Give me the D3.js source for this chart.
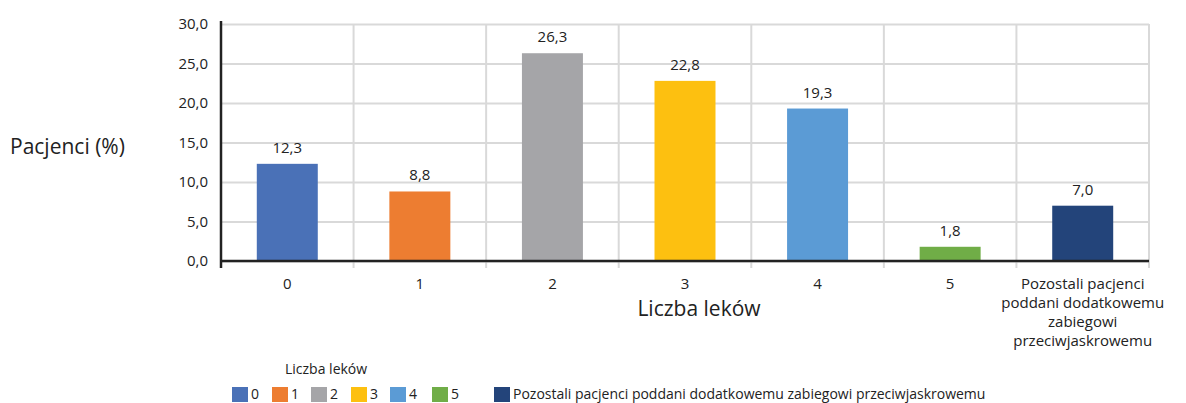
<!DOCTYPE html>
<html>
<head>
<meta charset="utf-8">
<script src="https://cdn.jsdelivr.net/npm/d3@7"></script>
<style>
  html, body { margin: 0; padding: 0; background: #fff; overflow: hidden; }
  svg { display: block; font-family: "Open Sans", "Noto Sans", sans-serif; }
</style>
</head>
<body>
<svg id="chart"></svg>
<script>
// Data
const categories = ["0", "1", "2", "3", "4", "5", "Pozostali pacjenci poddani dodatkowemu zabiegowi przeciwjaskrowemu"];
const tickLabels = [["0"], ["1"], ["2"], ["3"], ["4"], ["5"],
  ["Pozostali pacjenci", "poddani dodatkowemu", "zabiegowi", "przeciwjaskrowemu"]];
const values = [12.3, 8.8, 26.3, 22.8, 19.3, 1.8, 7.0];
const colours = ["#4a71b7", "#ed7d31", "#a5a5a8", "#fdc010", "#5b9bd5", "#70ad47", "#23447a"];
const legendLabels = ["0", "1", "2", "3", "4", "5", "Pozostali pacjenci poddani dodatkowemu zabiegowi przeciwjaskrowemu"];
const yTicks = [0, 5, 10, 15, 20, 25, 30];

const width = 1186, height = 403;
const margin = { top: 24, right: 37, bottom: 142, left: 221 };
const innerWidth = width - margin.left - margin.right;
const innerHeight = height - margin.top - margin.bottom;

const fmt = v => d3.format(".1f")(v).replace(".", ",");

const svg = d3.select("#chart").attr("width", width).attr("height", height);
const g = svg.append("g").attr("transform", `translate(${margin.left},${margin.top})`);

const x = d3.scaleBand().domain(categories).range([0, innerWidth]).paddingInner(0.54).paddingOuter(0.27);
const y = d3.scaleLinear().domain([0, 30]).range([innerHeight, 0]);

// Horizontal grid
g.append("g")
  .attr("class", "grid")
  .call(d3.axisLeft(y).tickValues(yTicks).tickSize(-innerWidth).tickFormat(""))
  .call(s => s.select(".domain").remove())
  .call(s => s.selectAll("text").remove())
  .call(s => s.selectAll("line").attr("stroke", "#d9d9d9").attr("stroke-width", 2));

// Vertical grid (band boundaries), extending below the axis
const bounds = d3.range(1, categories.length + 1).map(i => i * innerWidth / categories.length);
g.append("g").selectAll("line").data(bounds).join("line")
  .attr("x1", d => d).attr("x2", d => d)
  .attr("y1", 0).attr("y2", innerHeight + 7)
  .attr("stroke", "#d9d9d9").attr("stroke-width", 2);

// Bars
g.selectAll("rect.bar").data(values).join("rect")
  .attr("class", "bar")
  .attr("x", (d, i) => x(categories[i]))
  .attr("width", x.bandwidth())
  .attr("y", d => y(d))
  .attr("height", d => innerHeight - y(d))
  .attr("fill", (d, i) => colours[i]);

// Value labels
g.selectAll("text.val").data(values).join("text")
  .attr("class", "val")
  .attr("x", (d, i) => x(categories[i]) + x.bandwidth() / 2)
  .attr("y", d => y(d) - 11)
  .attr("text-anchor", "middle")
  .attr("font-size", 15)
  .attr("fill", "#222")
  .text(fmt);

// Y axis
const yAxis = g.append("g")
  .call(d3.axisLeft(y).tickValues(yTicks).tickSize(0).tickPadding(13).tickFormat(fmt));
yAxis.select(".domain").remove();
yAxis.selectAll("text").attr("font-size", 15).attr("fill", "#222").attr("font-family", "Open Sans");
g.append("line").attr("x1", 0).attr("x2", 0).attr("y1", -3).attr("y2", innerHeight + 7)
  .attr("stroke", "#222").attr("stroke-width", 2.5);

// X axis
g.append("line").attr("x1", 0).attr("x2", innerWidth).attr("y1", innerHeight).attr("y2", innerHeight)
  .attr("stroke", "#222").attr("stroke-width", 2.5);

const xt = g.append("g").selectAll("text").data(categories).join("text")
  .attr("x", d => x(d) + x.bandwidth() / 2)
  .attr("y", innerHeight + 28)
  .attr("text-anchor", "middle")
  .attr("font-size", 15)
  .attr("fill", "#222");
xt.selectAll("tspan").data((d, i) => tickLabels[i]).join("tspan")
  .attr("x", function () { return this.parentNode.getAttribute("x"); })
  .attr("dy", (d, i) => i === 0 ? 0 : 19)
  .text(d => d);

// Axis titles
svg.append("text").attr("x", 10).attr("y", 154).attr("font-size", 21).attr("fill", "#222")
  .text("Pacjenci (%)");
svg.append("text").attr("x", 699).attr("y", 316).attr("text-anchor", "middle")
  .attr("font-size", 21).attr("fill", "#222").text("Liczba leków");

// Legend
svg.append("text").attr("x", 285).attr("y", 374).attr("font-size", 14).attr("fill", "#222")
  .text("Liczba leków");
const legendX = [232, 272, 311, 351, 390, 432, 494];
const lg = svg.append("g").selectAll("g").data(legendLabels).join("g")
  .attr("transform", (d, i) => `translate(${legendX[i]},387)`);
lg.append("rect").attr("width", 16).attr("height", 15).attr("fill", (d, i) => colours[i]);
lg.append("text").attr("x", 19).attr("y", 12).attr("font-size", 14).attr("fill", "#222").text(d => d);
</script>
</body>
</html>
